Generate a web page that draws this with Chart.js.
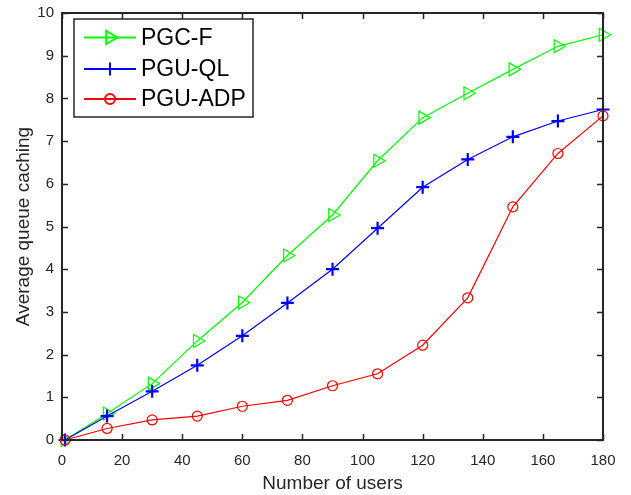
<!DOCTYPE html>
<html>
<head>
<meta charset="utf-8">
<script src="https://cdn.jsdelivr.net/npm/chart.js@4.4.1/dist/chart.umd.min.js"></script>
<style>
  body { margin: 0; background: #fff; }
  #wrap { width: 631px; height: 495px; }
</style>
</head>
<body>
<div id="wrap"><canvas id="chart" width="631" height="495"></canvas></div>
<script>
// data
var users = [1, 15, 30, 45, 60, 75, 90, 105, 120, 135, 150, 165, 180];
var pgcF = [0, 0.62, 1.32, 2.32, 3.22, 4.32, 5.27, 6.54, 7.55, 8.12, 8.68, 9.22, 9.49];
var pguQL = [0, 0.56, 1.14, 1.75, 2.44, 3.21, 4.0, 4.96, 5.92, 6.57, 7.1, 7.47, 7.74];
var pguADP = [0, 0.27, 0.47, 0.56, 0.79, 0.93, 1.27, 1.55, 2.22, 3.33, 5.46, 6.71, 7.59];

var xTicks = [0, 20, 40, 60, 80, 100, 120, 140, 160, 180];
var yTicks = [0, 1, 2, 3, 4, 5, 6, 7, 8, 9, 10];

var legendNames = ["PGC-F", "PGU-QL", "PGU-ADP"];
var axisColor = "#262626";
var fontName = "'Liberation Sans', Arial, sans-serif";

function toPoints(ys) {
  var pts = [];
  for (var i = 0; i < users.length; i++) {
    pts.push({ x: users[i], y: ys[i] });
  }
  return pts;
}

// box around the axes + ticks pointing inward (matlab style)
var boxPlugin = {
  id: "boxTicks",
  afterDatasetsDraw: function (chart) {
    var ctx = chart.ctx;
    var a = chart.chartArea;
    var xs = chart.scales.x, ys = chart.scales.y;
    var len = 6;
    ctx.save();
    ctx.strokeStyle = axisColor;
    ctx.lineWidth = 1.5;
    ctx.beginPath();
    for (var i = 0; i < xTicks.length; i++) {
      var px = Math.round(xs.getPixelForValue(xTicks[i])) + 0.5;
      ctx.moveTo(px, a.bottom); ctx.lineTo(px, a.bottom - len);
      ctx.moveTo(px, a.top); ctx.lineTo(px, a.top + len);
    }
    for (var j = 0; j < yTicks.length; j++) {
      var py = Math.round(ys.getPixelForValue(yTicks[j])) + 0.5;
      ctx.moveTo(a.left, py); ctx.lineTo(a.left + len, py);
      ctx.moveTo(a.right, py); ctx.lineTo(a.right - len, py);
    }
    ctx.stroke();
    ctx.lineWidth = 2;
    ctx.strokeRect(a.left, a.top, a.right - a.left, a.bottom - a.top);
    ctx.restore();
  }
};

// legend box in the upper left corner
var legendPlugin = {
  id: "insideLegend",
  afterDraw: function (chart) {
    var ctx = chart.ctx;
    var a = chart.chartArea;
    var bx = a.left + 12, by = a.top + 6, bw = 179, bh = 98;
    ctx.save();
    ctx.fillStyle = "#fff";
    ctx.fillRect(bx, by, bw, bh);
    ctx.strokeStyle = axisColor;
    ctx.lineWidth = 1.5;
    ctx.strokeRect(bx, by, bw, bh);
    ctx.font = "23px " + fontName;
    ctx.textBaseline = "middle";
    var rows = [by + 18.5, by + 50, by + 80];
    for (var i = 0; i < chart.data.datasets.length; i++) {
      var ds = chart.data.datasets[i];
      var y = rows[i];
      ctx.strokeStyle = ds.borderColor;
      ctx.lineWidth = 2;
      ctx.beginPath();
      ctx.moveTo(bx + 10, y); ctx.lineTo(bx + 62, y);
      ctx.stroke();
      ctx.fillStyle = "rgba(0,0,0,0)";
      Chart.helpers.drawPoint(ctx, {
        pointStyle: ds.pointStyle,
        rotation: ds.pointRotation || 0,
        radius: ds.pointRadius,
        borderWidth: ds.pointBorderWidth
      }, bx + 36, y);
      ctx.fillStyle = "#000";
      ctx.fillText(legendNames[i], bx + 67, y + 1);
    }
    ctx.restore();
  }
};

new Chart(document.getElementById("chart"), {
  type: "line",
  data: {
    datasets: [
      {
        label: legendNames[0],
        data: toPoints(pgcF),
        borderColor: "#00ff00",
        backgroundColor: "rgba(0,0,0,0)",
        borderWidth: 1.2,
        pointStyle: "triangle",
        pointRotation: 90,
        pointRadius: 7.5,
        pointBorderWidth: 1.2,
        clip: false,
        order: 2
      },
      {
        label: legendNames[1],
        data: toPoints(pguQL),
        borderColor: "#0000ff",
        backgroundColor: "rgba(0,0,0,0)",
        borderWidth: 1.2,
        pointStyle: "cross",
        pointRadius: 6.5,
        pointBorderWidth: 2.2,
        clip: false,
        order: 1
      },
      {
        label: legendNames[2],
        data: toPoints(pguADP),
        borderColor: "#ff0000",
        backgroundColor: "rgba(0,0,0,0)",
        borderWidth: 1.2,
        pointStyle: "circle",
        pointRadius: 5,
        pointBorderWidth: 1.2,
        clip: false,
        order: 0
      }
    ]
  },
  options: {
    responsive: false,
    animation: false,
    devicePixelRatio: 1,
    layout: { padding: { left: 0, top: 13, right: 28, bottom: 0 } },
    plugins: {
      legend: { display: false },
      tooltip: { enabled: false }
    },
    elements: { line: { tension: 0 } },
    scales: {
      x: {
        type: "linear",
        min: 0,
        max: 180,
        afterFit: function (s) {
          s.height = 55;
          s.paddingLeft = 0; s.paddingRight = 0;
        },
        afterBuildTicks: function (s) {
          s.ticks = xTicks.map(function (v) { return { value: v }; });
        },
        grid: { display: false },
        border: { display: false },
        ticks: {
          color: axisColor,
          font: { family: fontName, size: 15 },
          padding: 4,
          maxRotation: 0
        },
        title: {
          display: true,
          text: "Number of users",
          color: axisColor,
          font: { family: fontName, size: 19 },
          padding: { top: 0, bottom: 0 }
        }
      },
      y: {
        type: "linear",
        min: 0,
        max: 10,
        afterFit: function (s) {
          s.width = 62;
          s.paddingTop = 0; s.paddingBottom = 0;
        },
        afterBuildTicks: function (s) {
          s.ticks = yTicks.map(function (v) { return { value: v }; });
        },
        grid: { display: false },
        border: { display: false },
        ticks: {
          color: axisColor,
          font: { family: fontName, size: 15 },
          padding: 0
        },
        title: {
          display: true,
          text: "Average queue caching",
          color: axisColor,
          font: { family: fontName, size: 19 },
          padding: { top: 12, bottom: 0 }
        }
      }
    }
  },
  plugins: [boxPlugin, legendPlugin]
});
</script>
</body>
</html>
